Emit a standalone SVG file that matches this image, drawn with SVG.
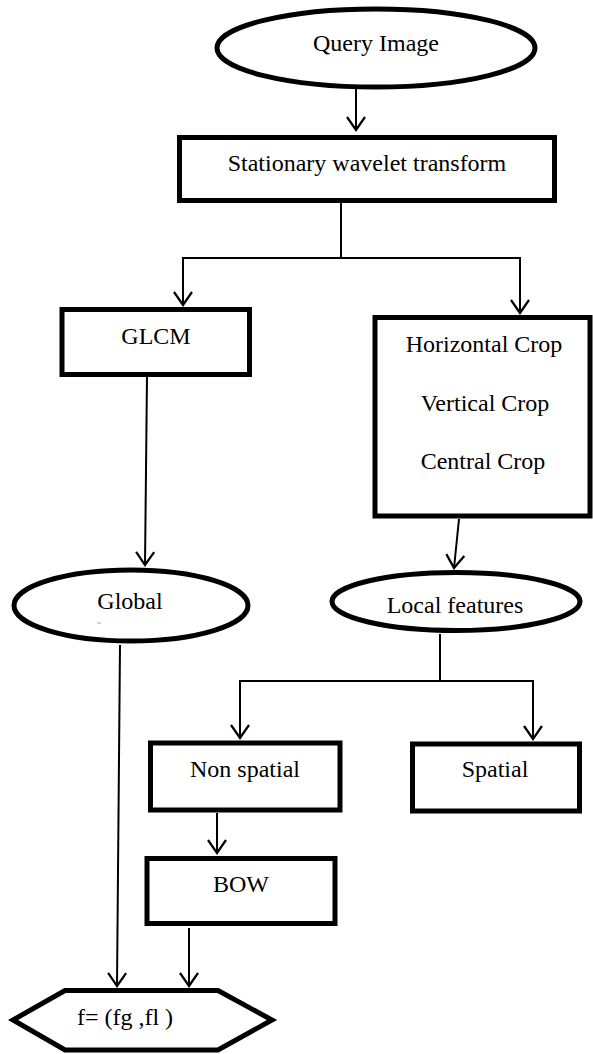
<svg xmlns="http://www.w3.org/2000/svg" width="593" height="1054" viewBox="0 0 593 1054">
<style>
.shape{fill:#fff;stroke:#000;stroke-width:5}
.lbl{font-family:"Liberation Serif","Times New Roman",serif;font-size:24px;fill:#000;text-anchor:middle}
.con{fill:none;stroke:#000;stroke-width:2}
</style>
<defs>
<marker id="arr" markerUnits="userSpaceOnUse" markerWidth="30" markerHeight="30" viewBox="-15 -15 30 30" refX="0" refY="0" orient="auto">
<path d="M-13,-9 L0,0 L-13,9" fill="none" stroke="#000" stroke-width="2.2"/>
</marker>
</defs>
<rect width="593" height="1054" fill="#fff"/>
<g id="connectors">
<line class="con" x1="356" y1="89" x2="356" y2="130" marker-end="url(#arr)"/>
<line class="con" x1="341" y1="203" x2="341" y2="258"/>
<polyline class="con" points="183,305 183,258 520,258 520,313" marker-end="url(#arr)"/>
<line class="con" x1="183" y1="258" x2="183" y2="305" marker-end="url(#arr)"/>
<line class="con" x1="147" y1="377" x2="145" y2="565" marker-end="url(#arr)"/>
<line class="con" x1="459" y1="519" x2="454" y2="568" marker-end="url(#arr)"/>
<line class="con" x1="440" y1="634" x2="440" y2="681"/>
<polyline class="con" points="240,738 240,681 533,681 533,739" marker-end="url(#arr)"/>
<line class="con" x1="240" y1="681" x2="240" y2="738" marker-end="url(#arr)"/>
<line class="con" x1="217" y1="813" x2="217" y2="853" marker-end="url(#arr)"/>
<line class="con" x1="120" y1="645" x2="117" y2="986" marker-end="url(#arr)"/>
<line class="con" x1="189" y1="928" x2="189" y2="986" marker-end="url(#arr)"/>
</g>
<g id="query">
<ellipse class="shape" cx="376" cy="48" rx="159" ry="39" stroke-width="4.5"/>
<text class="lbl" x="376" y="51">Query Image</text>
</g>
<g id="swt">
<rect class="shape" x="179.5" y="137.5" width="375" height="63"/>
<text class="lbl" x="367" y="171">Stationary wavelet transform</text>
</g>
<g id="glcm">
<rect class="shape" x="62" y="309.5" width="187.5" height="65"/>
<text class="lbl" x="156" y="344">GLCM</text>
</g>
<g id="crops">
<rect class="shape" x="375" y="317.5" width="215" height="198.5"/>
<text class="lbl" x="484" y="352">Horizontal Crop</text>
<text class="lbl" x="485" y="411">Vertical Crop</text>
<text class="lbl" x="483" y="469">Central Crop</text>
</g>
<g id="global">
<ellipse class="shape" cx="131" cy="605.5" rx="117" ry="35.5" stroke-width="4.5"/>
<text class="lbl" x="130" y="609">Global</text>
<rect x="97" y="622.5" width="4" height="1" fill="#aaa"/>
</g>
<g id="local">
<ellipse class="shape" cx="456" cy="601.5" rx="124" ry="29" stroke-width="4.5"/>
<text class="lbl" x="455" y="613">Local features</text>
</g>
<g id="nonspatial">
<rect class="shape" x="150.5" y="743" width="189.5" height="67"/>
<text class="lbl" x="245" y="777">Non spatial</text>
</g>
<g id="spatial">
<rect class="shape" x="412.5" y="744" width="167" height="67"/>
<text class="lbl" x="495" y="777">Spatial</text>
</g>
<g id="bow">
<rect class="shape" x="147" y="858.5" width="188" height="65"/>
<text class="lbl" x="241" y="892">BOW</text>
</g>
<g id="result">
<polygon class="shape" points="65,990.5 218,990.5 272,1020 218,1050 65,1050 13,1020"/>
<text class="lbl" x="125" y="1025">f= (fg ,fl )</text>
</g>
</svg>
